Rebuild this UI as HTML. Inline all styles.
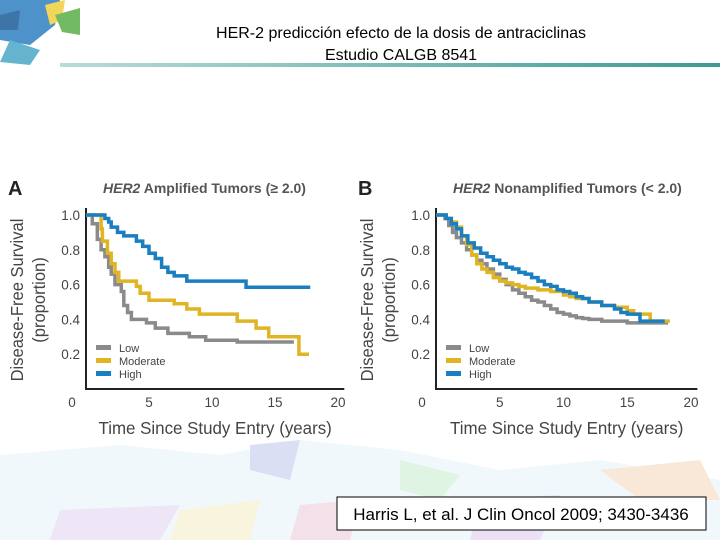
<!DOCTYPE html>
<html><head><meta charset="utf-8"><style>
body{margin:0;width:720px;height:540px;overflow:hidden;background:#fff;font-family:"Liberation Sans",sans-serif}
svg{display:block}
</style></head><body>
<svg id="s" width="720" height="540" xmlns="http://www.w3.org/2000/svg">
<g opacity="0.85">
<polygon points="0,0 60,0 55,25 30,45 0,40" fill="#2f7fbf"/>
<polygon points="10,40 40,50 30,65 0,62" fill="#49a8c8"/>
<polygon points="45,5 65,0 62,20 50,25" fill="#f0d040"/>
<polygon points="55,15 80,8 80,35 62,32" fill="#5ab04a"/>
<polygon points="0,15 20,10 18,30 0,30" fill="#1c5d9a"/>
</g>
<g opacity="0.35">
<polygon points="0,455 120,445 220,455 300,440 400,450 500,470 600,460 720,480 720,540 0,540" fill="#d8ecf5"/>
<polygon points="250,445 300,440 290,480 250,470" fill="#9aa6e0"/>
<polygon points="400,460 460,475 440,500 400,490" fill="#a8e0b0"/>
<polygon points="480,500 560,495 540,540 470,540" fill="#c9a8e0"/>
<polygon points="600,470 700,460 720,500 640,500" fill="#f0c090"/>
<polygon points="60,510 180,505 160,540 50,540" fill="#d0b8e8"/>
<polygon points="180,510 260,500 250,540 170,540" fill="#f0e0a0"/>
<polygon points="300,505 360,500 350,540 290,540" fill="#e0a8c0"/>
</g>
<defs><linearGradient id="hl" x1="0" x2="1"><stop offset="0" stop-color="#b8dcd8"/><stop offset="1" stop-color="#3e9a94"/></linearGradient></defs>
<rect x="60" y="63" width="660" height="4" fill="url(#hl)"/>
<text x="401" y="38" text-anchor="middle" font-size="16" fill="#000">HER-2 predicción efecto de la dosis de antraciclinas</text>
<text x="401" y="60" text-anchor="middle" font-size="16" fill="#000">Estudio CALGB 8541</text>
<g id="charts"></g>
<rect x="337" y="497" width="369" height="33" fill="#fff" stroke="#000" stroke-width="1"/>
<text x="521" y="520" text-anchor="middle" font-size="17" fill="#000">Harris L, et al. J Clin Oncol 2009; 3430-3436</text>
</svg>
<script>
const seriesNames=["Low","Moderate","High"];
const seriesColors=["#8a8a8a","#e0b422","#1a7fc0"];
const xTicks=[0,5,10,15,20];
const yTicks=[0.2,0.4,0.6,0.8,1.0];
// Panel A
const aLowT=[0,0.5,0.9,1.2,1.5,1.8,2,2.3,2.8,3,3.3,3.6,4.8,5.5,6.5,8.2,9.5,12,13,16.5];
const aLowV=[1,0.95,0.86,0.8,0.76,0.7,0.66,0.6,0.56,0.48,0.44,0.4,0.38,0.35,0.32,0.3,0.28,0.27,0.27,0.27];
const aModT=[0,1.2,1.3,1.7,2,2.3,2.6,3,4,4.3,5,7,8,9,12,13.5,14.5,16.9,17.7];
const aModV=[1,0.92,0.85,0.78,0.72,0.67,0.62,0.62,0.59,0.55,0.51,0.49,0.46,0.43,0.39,0.35,0.3,0.2,0.2];
const aHighT=[0,1.5,1.8,2,2.5,3,4,4.5,5,5.5,6,6.5,7,8,8.5,12.7,17.8];
const aHighV=[1,0.98,0.96,0.93,0.9,0.88,0.85,0.82,0.78,0.75,0.7,0.67,0.65,0.62,0.62,0.585,0.585];
// Panel B
const bLowT=[0,0.7,1,1.3,1.6,2,2.4,2.8,3.2,3.6,4,4.5,5,5.5,6,6.5,7,7.5,8,8.5,9,9.5,10,10.5,11,11.5,12,13,14,15,16,18.2];
const bLowV=[1,0.98,0.94,0.9,0.87,0.84,0.8,0.77,0.74,0.72,0.69,0.66,0.63,0.6,0.57,0.55,0.53,0.51,0.5,0.48,0.46,0.44,0.43,0.42,0.41,0.405,0.4,0.39,0.39,0.38,0.38,0.38];
const bModT=[0,0.8,1.2,1.6,2,2.4,2.8,3.2,3.6,4,4.5,5,5.5,6,6.5,7,8,9,10,10.5,11,12,13,14,15,15.5,16.8,18.2];
const bModV=[1,0.98,0.96,0.93,0.88,0.83,0.77,0.72,0.69,0.67,0.64,0.62,0.61,0.6,0.59,0.58,0.57,0.56,0.54,0.53,0.52,0.5,0.48,0.47,0.45,0.43,0.39,0.38];
const bHighT=[0,0.8,1.2,1.6,2,2.5,3,3.5,4,4.5,5,5.5,6,6.5,7,7.5,8,8.5,9,9.5,10,10.5,11,11.5,12,13,14,14.5,15,16,17.8];
const bHighV=[1,0.98,0.95,0.92,0.88,0.84,0.81,0.78,0.76,0.74,0.72,0.7,0.69,0.67,0.66,0.64,0.62,0.6,0.59,0.57,0.56,0.55,0.53,0.52,0.5,0.48,0.46,0.44,0.43,0.39,0.38];

const NS="http://www.w3.org/2000/svg";
const root=document.getElementById('charts');
function mk(tag,attrs,parent){const e=document.createElementNS(NS,tag);for(const k in attrs)e.setAttribute(k,attrs[k]);(parent||root).appendChild(e);return e;}
function panel(letter,titleRest,x0,xPerUnit,labelRight,series){
  const g=mk('g',{});
  
  
  const X=t=>x0+xPerUnit*t, Y=v=>389-174*v;
  const L=mk('text',{x:x0-78,y:195,'font-size':20,'font-weight':'bold',fill:'#222'},g);L.textContent=letter;
  
  
  const T=mk('text',{x:x0+17,y:193,'font-size':14,'font-weight':'bold',fill:'#555'},g);
  T.innerHTML='<tspan font-style="italic">HER2</tspan> '+titleRest;
  
  
  const ax=mk('path',{d:`M${x0} 208 V389 H${X(20.5)}`,fill:'none',stroke:'#222','stroke-width':2},g);
  
  
  yTicks.forEach(v=>{const t=mk('text',{x:labelRight,y:Y(v)+5,'text-anchor':'end','font-size':13.5,fill:'#444'},g);t.textContent=v.toFixed(1);
    
    });
  xTicks.forEach(v=>{const t=mk('text',{x:v===0?x0-14:X(v),y:407,'text-anchor':'middle','font-size':13.5,fill:'#444'},g);t.textContent=v;
    
    });
  const xt=mk('text',{x:X(10.4)-2,y:434,'text-anchor':'middle','font-size':18,fill:'#444',transform:`translate(${X(10.4)} 0) scale(0.94 1) translate(${-X(10.4)} 0)`},g);xt.textContent='Time Since Study Entry (years)';
  
  
  const cx=x0-63;
  const yt=mk('text',{x:0,y:0,'text-anchor':'middle','font-size':18,fill:'#444',transform:`translate(${cx} 300) rotate(-90) scale(0.92 1)`},g);
  yt.innerHTML='<tspan x="0" dy="0">Disease-Free Survival</tspan><tspan x="0" dy="22">(proportion)</tspan>';
  
  
  series.forEach((s,i)=>{
    let d=`M${X(s[0][0])} ${Y(s[1][0])}`;
    for(let k=1;k<s[0].length;k++){d+=` H${X(s[0][k])} V${Y(s[1][k])}`;}
    const p=mk('path',{d:d,fill:'none',stroke:seriesColors[i],'stroke-width':3.5},g);
    
    
  });
  seriesNames.forEach((n,i)=>{
    const ly=348+i*13;
    const r=mk('rect',{x:x0+10,y:ly-3,width:15,height:5,fill:seriesColors[i]},g);
    
    
    const t=mk('text',{x:x0+33,y:ly+4,'font-size':11,fill:'#444'},g);t.textContent=n;
    
    
  });
}
panel('A','Amplified Tumors (≥ 2.0)',86,12.6,80,[[aLowT,aLowV],[aModT,aModV],[aHighT,aHighV]]);
panel('B','Nonamplified Tumors (< 2.0)',436,12.75,430,[[bLowT,bLowV],[bModT,bModV],[bHighT,bHighV]]);
</script>
</body></html>
